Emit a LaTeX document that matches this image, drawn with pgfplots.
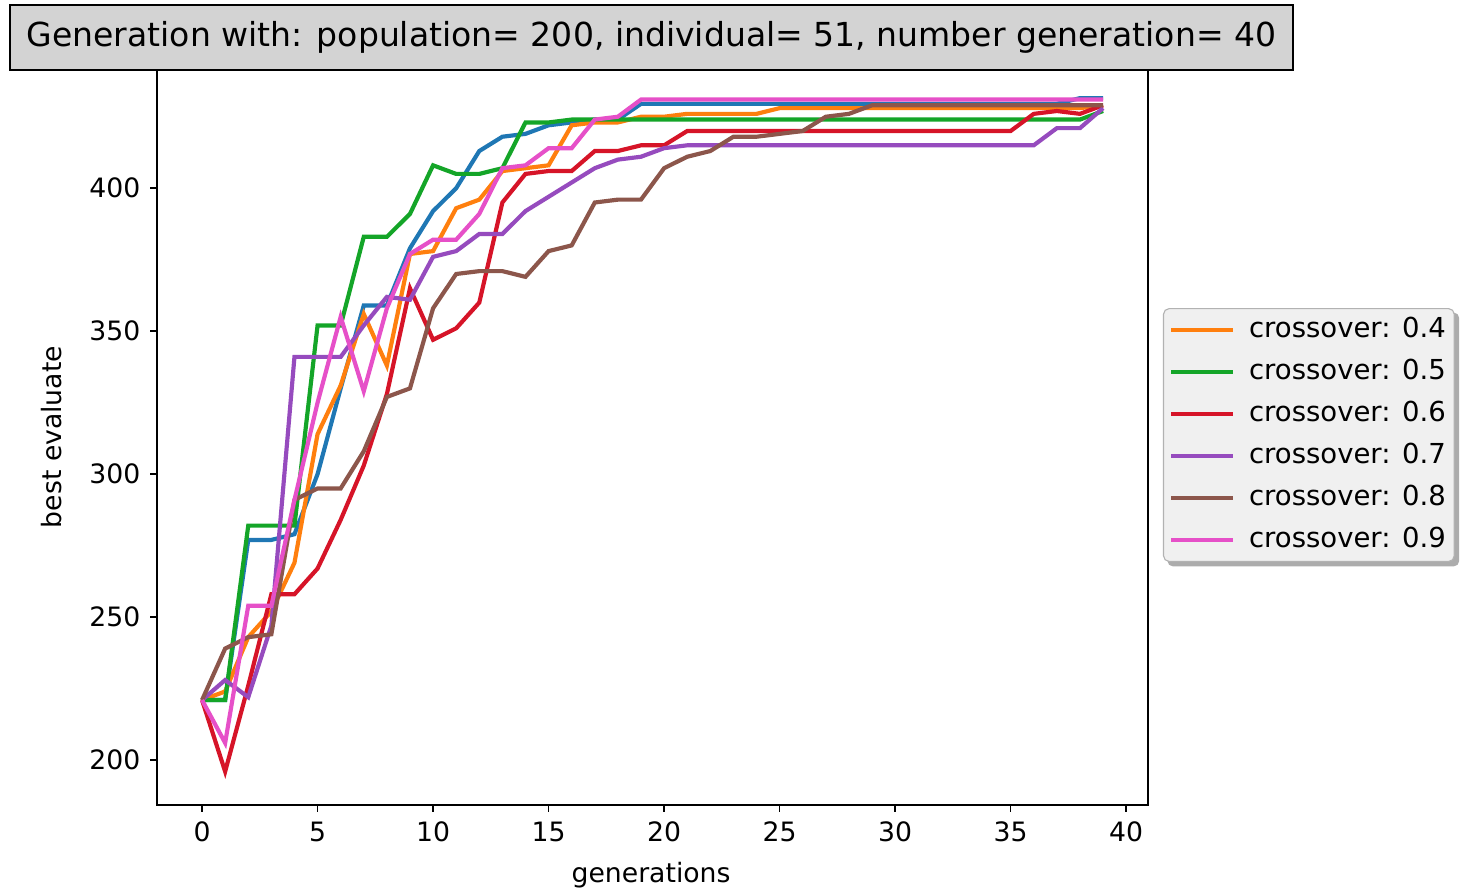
\documentclass[border=0pt]{standalone}
\usepackage{pgfplots}
\pgfplotsset{compat=1.18}
\usepackage{pgfplotstable}
\usepackage{fontspec}
\setmainfont{DejaVu Sans}
\usetikzlibrary{backgrounds}

\definecolor{cblue}{RGB}{31,119,180}
\definecolor{corange}{RGB}{255,127,14}
\definecolor{cgreen}{RGB}{20,165,40}
\definecolor{cred}{RGB}{214,20,40}
\definecolor{cpurple}{RGB}{150,75,190}
\definecolor{cbrown}{RGB}{140,86,75}
\definecolor{cpink}{RGB}{230,80,200}
\definecolor{titlegray}{RGB}{211,211,211}

% best evaluate per generation, one column per crossover rate
\pgfplotstableread{
x  c3    c4   c5   c6   c7   c8   c9
0  221   221  221  221  221  221  221
1  221   224  221  196  228  239  206
2  277   243  282  226  222  243  254
3  277   252  282  258  247  244  254
4  279   269  282  258  341  291  291
5  300   314  352  267  341  295  325
6  330   331  352  284  341  295  355
7  359   356  383  303  352  308  329
8  359   338  383  328  362  327  358
9  379   377  391  365  361  330  377
10 392   378  408  347  376  358  382
11 400   393  405  351  378  370  382
12 413   396  405  360  384  371  391
13 418   406  407  395  384  371  407
14 419   407  423  405  392  369  408
15 422   408  423  406  397  378  414
16 423   422  424  406  402  380  414
17 424   423  424  413  407  395  424
18 424   423  424  413  410  396  425
19 429.5 425  424  415  411  396  431
20 429.5 425  424  415  414  407  431
21 429.5 426  424  420  415  411  431
22 429.5 426  424  420  415  413  431
23 429.5 426  424  420  415  418  431
24 429.5 426  424  420  415  418  431
25 429.5 428  424  420  415  419  431
26 429.5 428  424  420  415  420  431
27 429.5 428  424  420  415  425  431
28 429.5 428  424  420  415  426  431
29 429.5 428  424  420  415  429  431
30 429.5 428  424  420  415  429  431
31 429.5 428  424  420  415  429  431
32 429.5 428  424  420  415  429  431
33 429.5 428  424  420  415  429  431
34 429.5 428  424  420  415  429  431
35 429.5 428  424  420  415  429  431
36 429.5 428  424  426  415  429  431
37 429.5 428  424  427  421  429  431
38 431.5 428  424  426  421  429  431
39 431.5 429  427  429  428  429  431
}\evaldata

\begin{document}
\begin{tikzpicture}[font=\fontsize{9.6}{11}\selectfont]
\path[use as bounding box] (-56.52pt,-31.68pt) rectangle (473.76pt,289.8pt);
\begin{axis}[
    at={(0pt,0pt)}, anchor=south west,
    scale only axis,
    width=356.8pt, height=266pt,
    xmin=-1.95, xmax=40.95,
    ymin=184.3, ymax=442.7,
    xtick={0,5,...,40},
    ytick={200,250,300,350,400},
    tick align=outside,
    major tick length=2.5pt,
    tick style={black, line width=0.6pt},
    xtick pos=bottom, ytick pos=left,
    axis line style={line width=0.6pt},
    /pgf/number format/assume math mode=true,
    tick label style={font=\fontsize{9.6}{11}\selectfont},
    xlabel={generations},
    ylabel={best evaluate},
    every axis x label/.style={at={(axis description cs:0.4985,-0.0947)},anchor=center},
    every axis y label/.style={at={(axis description cs:-0.106,0.498)},rotate=90,anchor=center},
    legend style={
        name=leg,
        at={(axis description cs:1.015,0.6725)}, anchor=north west,
        fill=gray!12, draw=gray!60, rounded corners=2pt,
        font=\fontsize{9.9}{11}\selectfont,
        inner xsep=2pt, inner ysep=2pt,
        row sep=3.6pt,
        nodes={inner sep=1pt, text height=7.5pt, text depth=2pt},
        cells={anchor=west},
        /tikz/every odd column/.append style={column sep=4pt},
    },
    legend image code/.code={\draw[#1, line width=1.5pt] (0pt,0pt) -- (22.3pt,0pt);},
    every axis plot/.append style={line width=1.5pt},
]
\addplot[cblue, forget plot] table[x=x, y=c3] {\evaldata};
\addplot[corange] table[x=x, y=c4] {\evaldata};
\addplot[cgreen] table[x=x, y=c5] {\evaldata};
\addplot[cred] table[x=x, y=c6] {\evaldata};
\addplot[cpurple] table[x=x, y=c7] {\evaldata};
\addplot[cbrown] table[x=x, y=c8] {\evaldata};
\addplot[cpink] table[x=x, y=c9] {\evaldata};
\legend{crossover: 0.4, crossover: 0.5, crossover: 0.6, crossover: 0.7, crossover: 0.8, crossover: 0.9}
\end{axis}
\begin{pgfonlayer}{background}
\fill[gray!65, rounded corners=2pt] ([xshift=1.6pt,yshift=-1.6pt]leg.south west) rectangle ([xshift=1.6pt,yshift=-1.6pt]leg.north east);
\end{pgfonlayer}
\draw[fill=titlegray, line width=0.8pt] (-52.9pt,264.6pt) rectangle (408.96pt,288pt);
\node[font=\fontsize{11.9}{14}\selectfont] at (178pt,276.3pt) {Generation with: population= 200, individual= 51, number generation= 40};
\end{tikzpicture}
\end{document}
